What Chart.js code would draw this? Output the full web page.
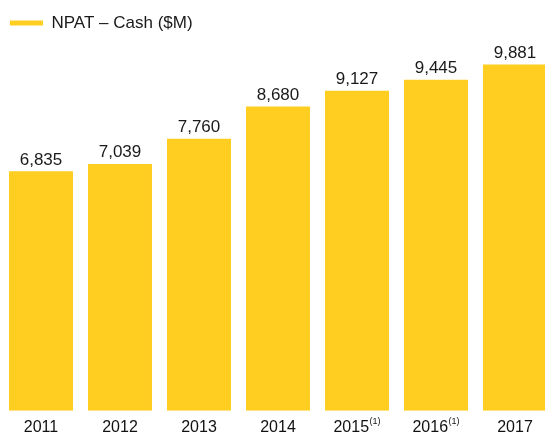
<!DOCTYPE html>
<html>
<head>
<meta charset="utf-8">
<script src="https://cdn.jsdelivr.net/npm/chart.js@4"></script>
<style>
  html, body { margin: 0; padding: 0; background: #fff; overflow: hidden; }
  #wrap { width: 556px; height: 434px; }
</style>
</head>
<body>
<div id="wrap"><canvas id="miGrafica" width="556" height="434"></canvas></div>
<script>
// datos
const anios = ['2011', '2012', '2013', '2014', '2015', '2016', '2017'];
const notas = ['', '', '', '', '(1)', '(1)', ''];
const npatCash = [6835, 7039, 7760, 8680, 9127, 9445, 9881];
const serieNombre = 'NPAT \u2013 Cash ($M)';

const amarillo = '#FFCE21';
const fuente = '"Liberation Sans", Arial, sans-serif';

// etiquetas de valor encima de cada barra
const etiquetasValor = {
    id: 'etiquetasValor',
    afterDatasetsDraw(chart) {
        const ctx = chart.ctx;
        const meta = chart.getDatasetMeta(0);
        ctx.save();
        ctx.font = '17px ' + fuente;
        ctx.fillStyle = '#1a1a1a';
        ctx.textAlign = 'center';
        ctx.textBaseline = 'alphabetic';
        meta.data.forEach((bar, i) => {
            ctx.fillText(npatCash[i].toLocaleString('en-US'), bar.x, bar.y - 6.5);
        });
        ctx.restore();
    }
};

// años del eje x con la nota en superindice, centrados juntos
const etiquetasAnio = {
    id: 'etiquetasAnio',
    afterDraw(chart) {
        const ctx = chart.ctx;
        const x = chart.scales.x;
        const base = chart.chartArea.bottom + 20.8;
        ctx.save();
        ctx.fillStyle = '#111';
        ctx.textAlign = 'left';
        ctx.textBaseline = 'alphabetic';
        anios.forEach((a, i) => {
            ctx.font = '16px ' + fuente;
            const w1 = ctx.measureText(a).width;
            ctx.font = '9px ' + fuente;
            const w2 = notas[i] ? ctx.measureText(notas[i]).width + 0.5 : 0;
            const x0 = x.getPixelForTick(i) - (w1 + w2) / 2;
            ctx.font = '16px ' + fuente;
            ctx.fillText(a, x0, base);
            if (notas[i]) {
                ctx.font = '9px ' + fuente;
                ctx.fillText(notas[i], x0 + w1 + 0.5, base - 8);
            }
        });
        ctx.restore();
    }
};

const ctx = document.getElementById('miGrafica').getContext('2d');
const chart = new Chart(ctx, {
    type: 'bar',
    data: {
        labels: anios,
        datasets: [{
            label: serieNombre,
            data: npatCash,
            backgroundColor: amarillo,
            borderWidth: 0,
            barPercentage: 0.81,
            categoryPercentage: 1
        }]
    },
    options: {
        responsive: false,
        animation: false,
        layout: { padding: { left: 1.5, right: 1.5, top: 6, bottom: 23.3 } },
        plugins: {
            tooltip: { enabled: false },
            legend: {
                display: true,
                position: 'top',
                align: 'start',
                labels: {
                    boxWidth: 33,
                    boxHeight: 5,
                    padding: 8.5,
                    color: '#1a1a1a',
                    font: { size: 17, family: fuente }
                }
            }
        },
        scales: {
            x: {
                grid: { display: false, drawTicks: false },
                border: { display: false },
                // las etiquetas las dibuja el plugin etiquetasAnio
                ticks: { display: false }
            },
            y: {
                display: false,
                beginAtZero: true,
                min: 0,
                max: 10534
            }
        }
    },
    plugins: [etiquetasValor, etiquetasAnio]
});
</script>
</body>
</html>
